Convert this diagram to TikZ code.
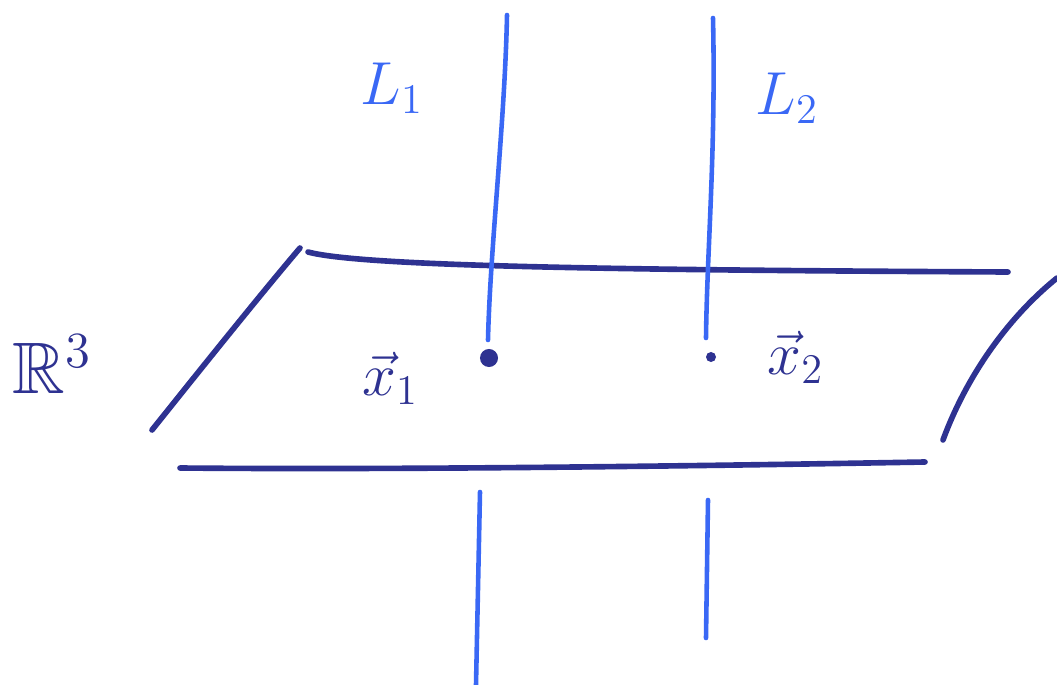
\documentclass[tikz,border=0pt]{standalone}
\usepackage{amsmath}
\usepackage{amssymb}
\usetikzlibrary{positioning}
\definecolor{planecolor}{RGB}{46,50,145}
\definecolor{linecolor}{RGB}{58,104,245}

\begin{document}
\begin{tikzpicture}[
  x=0.01cm, y=-0.01cm,
  plane/.style={draw=planecolor, line width=1.6pt, line cap=round},
  axis/.style={draw=linecolor, line width=1.3pt, line cap=round},
  lbl/.style={font=\LARGE, inner sep=0pt},
  pt/.style={circle, fill=planecolor, inner sep=0pt}
]
  \useasboundingbox (0,0) rectangle (1057,685);

  % Plan (bords)
  \coordinate (ptl) at (308,252);
  \coordinate (ptr) at (1008,272);
  \coordinate (pltop) at (300,248);
  \coordinate (plbot) at (152,430);
  \coordinate (pbl) at (180,468);
  \coordinate (pbr) at (925,462);
  \coordinate (prbot) at (943,440);
  \coordinate (prtop) at (1057,278);
  \draw[plane] (ptl) .. controls (360,266) and (600,270) .. (ptr);
  \draw[plane] (pltop) .. controls (260,295) and (200,370) .. (plbot);
  \draw[plane] (pbl) .. controls (400,470) and (700,466) .. (pbr);
  \draw[plane] (prbot) .. controls (965,380) and (1005,320) .. (prtop);

  % Droite L1
  \coordinate (a1) at (507,15);
  \coordinate (b1) at (488,340);
  \coordinate (c1) at (480,492);
  \coordinate (d1) at (476,685);
  \draw[axis] (a1) .. controls (505,120) and (490,250) .. (b1);
  \draw[axis] (c1) -- (d1);

  % Droite L2
  \coordinate (a2) at (713,18);
  \coordinate (b2) at (706,338);
  \coordinate (c2) at (708,500);
  \coordinate (d2) at (706,638);
  \draw[axis] (a2) .. controls (716,150) and (707,250) .. (b2);
  \draw[axis] (c2) -- (d2);

  % Points
  \node[pt, minimum size=0.18cm] (x1) at (489,358) {};
  \node[pt, minimum size=0.1cm] (x2) at (711,357) {};

  % Etiquettes
  \node[lbl, text=linecolor] (l1) at (392,88) {$L_1$};
  \node[lbl, text=linecolor] (l2) at (787,98) {$L_2$};
  \node[lbl, font=\huge, text=planecolor] (r3) at (52,364) {$\mathbb{R}^3$};
  \node[lbl, text=planecolor, left=0.6cm of x1, yshift=-0.2cm] (lx1) {$\vec{x}_1$};
  \node[lbl, text=planecolor, right=0.5cm of x2] (lx2) {$\vec{x}_2$};
\end{tikzpicture}
\end{document}
